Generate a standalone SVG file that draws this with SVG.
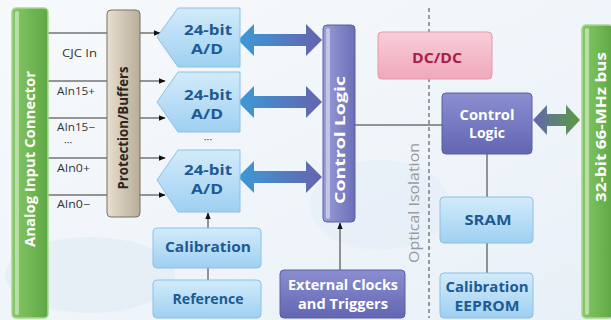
<svg xmlns="http://www.w3.org/2000/svg" width="611" height="320" viewBox="0 0 611 320">
<defs>
<linearGradient id="bg" x1="0" y1="0" x2="1" y2="1"><stop offset="0" stop-color="#f7fafc"/><stop offset="0.5" stop-color="#f0f5fa"/><stop offset="1" stop-color="#e8f0f7"/></linearGradient>
<linearGradient id="green" x1="0" y1="0" x2="1" y2="0"><stop offset="0" stop-color="#86c866"/><stop offset="1" stop-color="#5ea844"/></linearGradient>
<linearGradient id="tan" x1="0" y1="0" x2="1" y2="0"><stop offset="0" stop-color="#e7dfcf"/><stop offset="1" stop-color="#b8ad98"/></linearGradient>
<linearGradient id="blue" x1="0" y1="0" x2="0" y2="1"><stop offset="0" stop-color="#d2ebfb"/><stop offset="1" stop-color="#9fd0f1"/></linearGradient>
<linearGradient id="purple" x1="0" y1="0" x2="0" y2="1"><stop offset="0" stop-color="#8b8ed0"/><stop offset="1" stop-color="#6266b2"/></linearGradient>
<linearGradient id="purpleV" x1="0" y1="0" x2="1" y2="0"><stop offset="0" stop-color="#9a9dd6"/><stop offset="1" stop-color="#6b6fb8"/></linearGradient>
<linearGradient id="pink" x1="0" y1="0" x2="0" y2="1"><stop offset="0" stop-color="#f9cdd9"/><stop offset="1" stop-color="#f0a8bc"/></linearGradient>
<linearGradient id="arrowBP" x1="0" y1="0" x2="1" y2="0"><stop offset="0" stop-color="#3c9ad8"/><stop offset="1" stop-color="#6563ad"/></linearGradient>
<linearGradient id="arrowPG" x1="0" y1="0" x2="1" y2="0"><stop offset="0" stop-color="#6466b0"/><stop offset="1" stop-color="#5a9c40"/></linearGradient>
<marker id="ah" viewBox="0 0 10 10" refX="9" refY="5" markerWidth="7" markerHeight="7" orient="auto"><path d="M0,1 L10,5 L0,9 z" fill="#111"/></marker>
<style>
.lbl{font-family:"Open Sans","Noto Sans",sans-serif;font-size:10.5px;fill:#333}
.bt{font-family:"Open Sans","Noto Sans",sans-serif;font-weight:bold;font-size:14px;fill:#1d5a94;text-anchor:middle}
.wt{font-family:"Open Sans","Noto Sans",sans-serif;font-weight:bold;font-size:14px;fill:#fff;text-anchor:middle}
.vt{font-family:"Open Sans","Noto Sans",sans-serif;font-weight:bold;font-size:15px;fill:#fff;text-anchor:middle}
.dt{font-family:"Open Sans","Noto Sans",sans-serif;font-weight:bold;font-size:15px;fill:#2b2620;text-anchor:middle}
.bluebox{fill:url(#blue);stroke:#8cc0e4;stroke-width:1}
.pbox{fill:url(#purple);stroke:#5a5ea6;stroke-width:1}
.con{stroke:#333;stroke-width:1;fill:none}
.hl{fill:#ffffff;opacity:0.45}
</style>
</defs>
<rect x="0" y="0" width="611" height="320" fill="url(#bg)"/>
<ellipse cx="90" cy="275" rx="85" ry="38" fill="#dfe9f3" opacity="0.6"/>
<ellipse cx="380" cy="205" rx="70" ry="45" fill="#e4edf6" opacity="0.6"/>

<g id="connectors">
<line class="con" x1="48" y1="33" x2="107" y2="33"/>
<line class="con" x1="48" y1="81" x2="107" y2="81"/>
<line class="con" x1="48" y1="118" x2="107" y2="118"/>
<line class="con" x1="48" y1="158" x2="107" y2="158"/>
<line class="con" x1="48" y1="195" x2="107" y2="195"/>
<line class="con" x1="140" y1="33" x2="160" y2="33" marker-end="url(#ah)"/>
<line class="con" x1="140" y1="81" x2="165" y2="81" marker-end="url(#ah)"/>
<line class="con" x1="140" y1="118" x2="165" y2="118" marker-end="url(#ah)"/>
<line class="con" x1="140" y1="158" x2="165" y2="158" marker-end="url(#ah)"/>
<line class="con" x1="140" y1="195" x2="165" y2="195" marker-end="url(#ah)"/>
<line class="con" x1="208" y1="228" x2="208" y2="213" marker-end="url(#ah)"/>
<line class="con" x1="208" y1="268" x2="208" y2="280"/>
<line class="con" x1="340" y1="270" x2="340" y2="223" marker-end="url(#ah)"/>
<line class="con" x1="355" y1="125" x2="442" y2="125"/>
<line class="con" x1="487" y1="154" x2="487" y2="197"/>
<line class="con" x1="487" y1="243" x2="487" y2="273"/>
<line x1="429" y1="8" x2="429" y2="318" stroke="#444" stroke-width="1" stroke-dasharray="4,3"/>
<polygon points="238,40 254,24 254,34 306,34 306,24 322,40 306,56 306,46 254,46 254,56" fill="url(#arrowBP)"/>
<polygon points="238,102 254,86 254,96 306,96 306,86 322,102 306,118 306,108 254,108 254,118" fill="url(#arrowBP)"/>
<polygon points="238,177 254,161 254,171 306,171 306,161 322,177 306,193 306,183 254,183 254,193" fill="url(#arrowBP)"/>
<polygon points="533,120 547,105 547,114 566,114 566,105 580,120 566,135 566,126 547,126 547,135" fill="url(#arrowPG)"/>
</g>

<g id="analog-input">
<rect x="12" y="8" width="36" height="310" rx="4" fill="url(#green)" stroke="#a8d890" stroke-width="1.5"/>
<rect x="15" y="11" width="4" height="304" rx="2" class="hl"/>
<text class="vt" transform="translate(35,159) rotate(-90)" textLength="176" lengthAdjust="spacingAndGlyphs">Analog Input Connector</text>
</g>

<g id="labels">
<text class="lbl" x="62" y="57" textLength="35" lengthAdjust="spacingAndGlyphs">CJC In</text>
<text class="lbl" x="57" y="95" textLength="38" lengthAdjust="spacingAndGlyphs">AIn15+</text>
<text class="lbl" x="57" y="131" textLength="38" lengthAdjust="spacingAndGlyphs">AIn15−</text>
<text class="lbl" x="64" y="146" font-size="9">···</text>
<text class="lbl" x="57" y="172" textLength="33" lengthAdjust="spacingAndGlyphs">AIn0+</text>
<text class="lbl" x="57" y="208" textLength="33" lengthAdjust="spacingAndGlyphs">AIn0−</text>
</g>

<g id="protection">
<rect x="107" y="10" width="33" height="207" rx="4" fill="url(#tan)" stroke="#7a705f" stroke-width="1"/>
<text class="dt" transform="translate(128,128) rotate(-90)" textLength="123" lengthAdjust="spacingAndGlyphs">Protection/Buffers</text>
</g>

<g id="adc1">
<path d="M157,37 L178,8 L240,8 L240,67 L178,67 Z" class="bluebox" stroke-linejoin="round"/>
<text class="bt" x="208" y="35" textLength="48" lengthAdjust="spacingAndGlyphs">24-bit</text>
<text class="bt" x="207" y="54" textLength="32" lengthAdjust="spacingAndGlyphs">A/D</text>
</g>
<g id="adc2">
<path d="M157,102 L178,72 L240,72 L240,132 L178,132 Z" class="bluebox" stroke-linejoin="round"/>
<text class="bt" x="208" y="100" textLength="48" lengthAdjust="spacingAndGlyphs">24-bit</text>
<text class="bt" x="207" y="119" textLength="32" lengthAdjust="spacingAndGlyphs">A/D</text>
</g>
<text class="lbl" x="208" y="143" font-size="9" text-anchor="middle">···</text>
<g id="adc3">
<path d="M157,180 L178,150 L240,150 L240,212 L178,212 Z" class="bluebox" stroke-linejoin="round"/>
<text class="bt" x="208" y="175" textLength="48" lengthAdjust="spacingAndGlyphs">24-bit</text>
<text class="bt" x="207" y="194" textLength="32" lengthAdjust="spacingAndGlyphs">A/D</text>
</g>

<g id="calibration">
<rect x="153" y="228" width="108" height="40" rx="4" class="bluebox"/>
<text class="bt" x="208" y="252" textLength="86" lengthAdjust="spacingAndGlyphs">Calibration</text>
</g>
<g id="reference">
<rect x="153" y="280" width="108" height="38" rx="4" class="bluebox"/>
<text class="bt" x="208" y="304" textLength="71" lengthAdjust="spacingAndGlyphs">Reference</text>
</g>

<g id="control-logic-left">
<rect x="323" y="25" width="32" height="197" rx="4" fill="url(#purpleV)" stroke="#5a5ea6" stroke-width="1"/>
<rect x="326" y="28" width="4" height="191" rx="2" class="hl"/>
<text class="vt" transform="translate(345,140) rotate(-90)" textLength="128" lengthAdjust="spacingAndGlyphs">Control Logic</text>
</g>

<g id="ext-clocks">
<rect x="280" y="270" width="125" height="48" rx="4" class="pbox"/>
<text class="wt" x="343" y="290" textLength="110" lengthAdjust="spacingAndGlyphs">External Clocks</text>
<text class="wt" x="343" y="309" textLength="90" lengthAdjust="spacingAndGlyphs">and Triggers</text>
</g>

<g id="optical">
<text transform="translate(419,203) rotate(-90)" font-family="Open Sans, Noto Sans, sans-serif" font-size="14" fill="#9a9a9a" text-anchor="middle" textLength="120" lengthAdjust="spacingAndGlyphs">Optical Isolation</text>
</g>

<g id="dcdc">
<rect x="378" y="32" width="114" height="47" rx="4" fill="url(#pink)" stroke="#e896ac" stroke-width="1"/>
<text x="437" y="63" font-family="Open Sans, Noto Sans, sans-serif" font-weight="bold" font-size="14" fill="#a81e48" text-anchor="middle" textLength="50" lengthAdjust="spacingAndGlyphs">DC/DC</text>
</g>

<g id="control-logic-right">
<rect x="442" y="93" width="90" height="61" rx="4" class="pbox"/>
<text class="wt" x="487" y="120" textLength="55" lengthAdjust="spacingAndGlyphs">Control</text>
<text class="wt" x="487" y="138" textLength="36" lengthAdjust="spacingAndGlyphs">Logic</text>
</g>

<g id="sram">
<rect x="440" y="197" width="93" height="46" rx="4" class="bluebox"/>
<text class="bt" x="488" y="225" textLength="47" lengthAdjust="spacingAndGlyphs">SRAM</text>
</g>
<g id="eeprom">
<rect x="440" y="273" width="93" height="45" rx="4" class="bluebox"/>
<text class="bt" x="487" y="292" font-size="13" textLength="83" lengthAdjust="spacingAndGlyphs">Calibration</text>
<text class="bt" x="487" y="311" font-size="13" textLength="65" lengthAdjust="spacingAndGlyphs">EEPROM</text>
</g>

<g id="bus">
<rect x="582" y="25" width="31" height="293" rx="4" fill="url(#green)" stroke="#a8d890" stroke-width="1.5"/>
<rect x="585" y="28" width="4" height="287" rx="2" class="hl"/>
<text class="vt" transform="translate(606,127) rotate(-90)" textLength="150" lengthAdjust="spacingAndGlyphs">32-bit 66-MHz bus</text>
</g>
</svg>
